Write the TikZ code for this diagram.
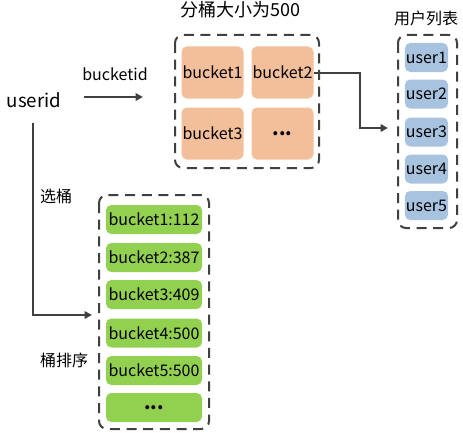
\documentclass[tikz,border=0pt]{standalone}
\usepackage{fontspec}
\setmainfont{Noto Sans CJK SC}
\usetikzlibrary{arrows.meta}

\definecolor{bucketorange}{RGB}{243,190,154}
\definecolor{userblue}{RGB}{168,195,223}
\definecolor{sortgreen}{RGB}{146,208,80}
\definecolor{linegray}{RGB}{64,64,64}

\tikzset{every picture/.style={line width=0.75pt}}
\tikzset{
  txt/.style={inner sep=0.75pt, font=\fontsize{12}{14}\selectfont},
  orangebox/.style={txt, fill=bucketorange, rounded corners=4pt, minimum width=46.5pt, minimum height=39pt},
  bluebox/.style={txt, fill=userblue, rounded corners=4pt, minimum width=32.25pt, minimum height=21.75pt},
  greenbox/.style={txt, fill=sortgreen, rounded corners=4pt, minimum width=72pt, minimum height=21.75pt},
  dashbox/.style={draw=linegray, line width=1.5pt, dash pattern=on 7.5pt off 5pt, rounded corners=6pt},
  conn/.style={draw=linegray, line width=1.5pt, -{Triangle[length=5.5pt,width=5.5pt]}}
}
\newcommand{\moredots}{{\fontsize{14}{14}\selectfont\textbf{...}}}

\begin{document}
\begin{tikzpicture}[x=0.75pt,y=0.75pt,yscale=-1,xscale=1]
\path (0,0) rectangle (463,435); %diagram size

%Shape: Dashed Boxes
\draw [dashbox] (175,35) rectangle (319,168) ;
\draw [dashbox] (398,35) rectangle (457,228) ;
\draw [dashbox] (99,195) rectangle (209,429) ;

% Text Node
\node (userid) at (34,100) [txt, font=\fontsize{14}{16}\selectfont] {userid};
\node (bucketid) at (115,74) [txt] {bucketid};
\node (title) at (240,10) [txt, font=\fontsize{13.5}{16}\selectfont] {分桶大小为500};
\node (userlist) at (426,18) [txt] {用户列表};
\node (pick) at (56,196) [txt] {选桶};
\node (sort) at (64,360) [txt] {桶排序};

%Buckets
\node (b1) at (212.5,72.5) [orangebox] {bucket1};
\node (b2) at (282.5,72.5) [orangebox] {bucket2};
\node (b3) at (212.5,133.5) [orangebox] {bucket3};
\node (b4) at (282.5,133.5) [orangebox] {\moredots};

%Users
\foreach \i/\y in {1/57.5,2/94,3/132,4/169,5/205.5}
  \node (u\i) at (426.5,\y) [bluebox] {user\i};

%Sorted buckets
\node (s1) at (154,219.5) [greenbox] {bucket1:112};
\node (s2) at (154,257.5) [greenbox] {bucket2:387};
\node (s3) at (154,294.5) [greenbox] {bucket3:409};
\node (s4) at (154,333) [greenbox] {bucket4:500};
\node (s5) at (154,370.5) [greenbox] {bucket5:500};
\node (s6) at (154,407.5) [greenbox] {\moredots};

%Connectors
\coordinate (idstart) at (84,97);
\coordinate (idend) at (143,97);
\coordinate (userin) at (388,128);
\coordinate (downstart) at (33,123);
\coordinate (sortin) at (92,315);
\draw [conn] (idstart) -- (idend) ;
\draw [conn] (b2.east) -- (360,72.5) |- (userin) ;
\draw [conn] (downstart) |- (sortin) ;

\end{tikzpicture}
\end{document}
